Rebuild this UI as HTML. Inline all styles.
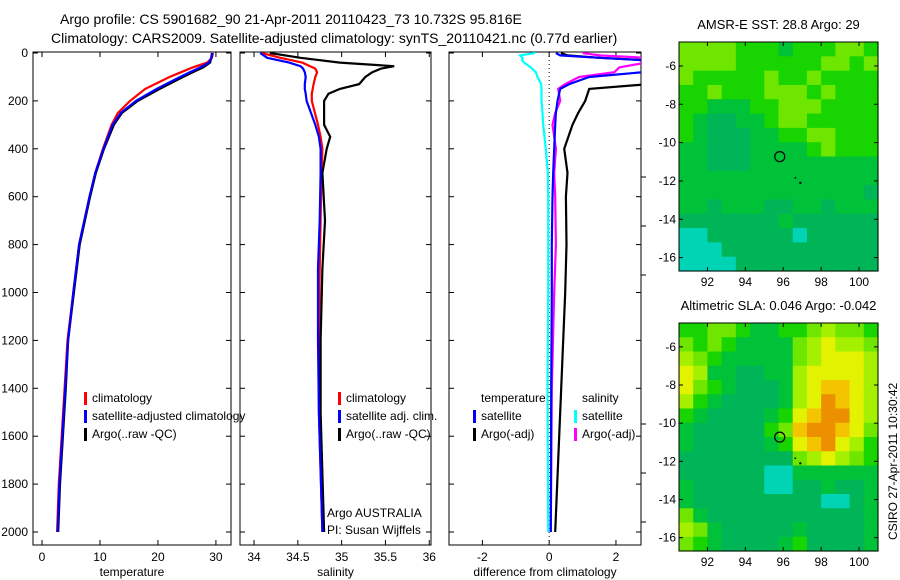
<!DOCTYPE html>
<html><head><meta charset="utf-8"><style>
html,body{margin:0;padding:0;background:#fff;}
svg{display:block;font-family:"Liberation Sans",sans-serif;}
text{font-size:12px;fill:#000;}
</style></head><body>
<svg id="fig" width="900" height="580" viewBox="0 0 900 580">
<text x="60" y="24" style="font-size:14px">Argo profile: CS 5901682_90 21-Apr-2011 20110423_73 10.732S 95.816E</text>
<text x="51" y="43" style="font-size:14px">Climatology: CARS2009. Satellite-adjusted climatology: synTS_20110421.nc (0.77d earlier)</text>
<g id="g"></g>
<text transform="translate(897,540) rotate(-90)">CSIRO 27-Apr-2011 10:30:42</text>
</svg>
<script>
// ---- profile data ----
const depthT=[0,20,40,60,80,100,150,200,250,300,400,500,600,800,1000,1200,1400,1600,1800,2000];
const tempArgo=[29.3,29.2,29.0,27.8,26.0,24.3,20.3,16.5,13.8,12.4,10.7,9.3,8.3,6.5,5.5,4.5,4.1,3.6,3.1,2.8];
const tempClim=[29.5,29.3,28.5,26.0,24.0,22.0,17.8,15.2,13.1,12.0,10.5,9.2,8.2,6.4,5.4,4.4,3.9,3.4,2.9,2.6];
const tempSat=[29.4,29.2,28.8,27.3,25.5,23.8,19.8,16.2,13.6,12.2,10.6,9.2,8.2,6.4,5.4,4.5,4.0,3.5,3.0,2.7];
const depthS=[0,20,40,55,65,80,100,130,150,170,200,300,350,400,500,700,900,1200,1500,2000];
const salArgo=[34.18,34.53,34.98,35.6,35.45,35.35,35.27,35.2,34.98,34.85,34.8,34.8,34.87,34.83,34.78,34.81,34.78,34.76,34.76,34.8];
const salClim=[34.09,34.3,34.55,34.64,34.7,34.72,34.7,34.68,34.67,34.66,34.66,34.73,34.76,34.78,34.77,34.76,34.75,34.74,34.74,34.78];
const salSat=[34.07,34.15,34.4,34.53,34.56,34.58,34.59,34.58,34.58,34.59,34.6,34.7,34.74,34.76,34.76,34.75,34.73,34.73,34.74,34.78];
const depthD=[0,10,20,30,40,60,80,100,130,150,200,250,300,400,500,600,800,1000,1400,2000];
const dTArgo=[0.35,0.55,1.5,2.9,3.0,3.0,3.0,3.0,3.0,1.2,1.08,0.87,0.7,0.45,0.55,0.5,0.52,0.48,0.36,0.18];
const dTSat=[0.2,0.33,1.5,2.8,2.8,2.8,2.8,1.2,0.6,0.33,0.25,0.2,0.18,0.15,0.12,0.1,0.08,0.08,0.06,0.05];
const dSArgo=[1.0,1.5,2.9,2.9,2.9,2.1,1.95,0.9,0.48,0.27,0.33,0.18,0.1,0.2,0.15,0.18,0.2,0.15,0.08,0.05];
const dSSat=[-0.42,-0.87,-0.8,-0.81,-0.75,-0.55,-0.4,-0.35,-0.24,-0.23,-0.23,-0.2,-0.18,-0.1,-0.04,-0.03,-0.03,-0.03,-0.05,-0.03];
const depthTicks=[0,200,400,600,800,1000,1200,1400,1600,1800,2000];
const tTicks=[0,10,20,30];
const sTicks=[34,34.5,35,35.5,36];
const dTicks=[-2,0,2];
// ---- map data (digit = colour level) ----
const sstGrid=["44443332333443","44443333334434","43333343343333","33433344434333","33222334443333","32112234433333","32111223344333","22111222234333","22111222222222","22222222222222","22222222222221","22122211221222","11111112111111","00111111011111","00011111111111","00001111111111"];
const slaGrid=["33443223345443","43432222456554","54322222456665","65221122566665","64321112567765","53211112568765","32111123678865","21111134788764","21111123678653","11111111456543","11111100222222","21111100112112","21111111110012","42111111111112","54211111211112","43211112311112"];
const lonTicks=[92,94,96,98,100];
const latTicks=[-6,-8,-10,-12,-14,-16];
const palette=["#00d4b4","#00b458","#00c238","#18d400","#6ee600","#a4f000","#e2f200","#f4c400","#ec9000"];

const NS="http://www.w3.org/2000/svg";
const G=document.getElementById('g');
function mk(tag,attrs,parent){const e=document.createElementNS(NS,tag);for(const k in attrs)e.setAttribute(k,attrs[k]);(parent||G).appendChild(e);return e;}
function txt(x,y,s,anchor,parent){const t=mk('text',{x:x,y:y,'text-anchor':anchor||'start'},parent);t.textContent=s;return t;}

const Y0=53, YK=0.2395;
const yD=d=>Y0+d*YK;
const panels=[
 {id:'temperature',x0:33,x1:231,v0:-1.55,v1:32.6,ticks:tTicks,label:'temperature'},
 {id:'salinity',x0:240,x1:431,v0:33.84,v1:36.02,ticks:sTicks,label:'salinity'},
 {id:'difference',x0:449,x1:641,v0:-3.0,v1:2.75,ticks:dTicks,label:'difference from climatology'}
];
const TOP=52,BOT=545;
panels.forEach((p,i)=>{
  p.sx=v=>p.x0+(v-p.v0)/(p.v1-p.v0)*(p.x1-p.x0);
  const cp=mk('clipPath',{id:'cp'+i});
  mk('rect',{x:p.x0,y:TOP,width:p.x1-p.x0,height:BOT-TOP},cp);
  const fr=mk('rect',{x:p.x0,y:TOP,width:p.x1-p.x0,height:BOT-TOP,fill:'none',stroke:'#000','stroke-width':1});
  
  
  p.ticks.forEach(t=>{const x=p.sx(t);
    mk('line',{x1:x,x2:x,y1:BOT,y2:BOT-5,stroke:'#000'});mk('line',{x1:x,x2:x,y1:TOP,y2:TOP+5,stroke:'#000'});
    const l=txt(x,561,String(t),'middle');
    
    });
  depthTicks.forEach(d=>{const y=yD(d);
    mk('line',{x1:p.x0,x2:p.x0+5,y1:y,y2:y,stroke:'#000'});mk('line',{x1:p.x1,x2:p.x1-5,y1:y,y2:y,stroke:'#000'});
    if(i===0){const l=txt(28,y+4,String(d),'end');
      
      }});
  const xl=txt((p.x0+p.x1)/2,576,p.label,'middle');
  
  
});
[177,226,275,424,473,522].forEach(y=>mk('line',{x1:641,x2:646,y1:y,y2:y,stroke:'#000'}));
mk('line',{x1:panels[2].sx(0),x2:panels[2].sx(0),y1:TOP,y2:BOT,stroke:'#000','stroke-dasharray':'1,3'});

function series(pi,depths,vals,color,name){
  const p=panels[pi];
  const pts=depths.map((d,k)=>p.sx(vals[k]).toFixed(1)+','+yD(d).toFixed(1)).join(' ');
  const pl=mk('polyline',{points:pts,fill:'none',stroke:color,'stroke-width':2.2,'clip-path':'url(#cp'+pi+')'});
  
  
}
series(0,depthT,tempClim,'#f00','temp-climatology-line');
series(0,depthT,tempArgo,'#000','temp-argo-line');
series(0,depthT,tempSat,'#00f','temp-satellite-line');
series(1,depthS,salClim,'#f00','sal-climatology-line');
series(1,depthS,salArgo,'#000','sal-argo-line');
series(1,depthS,salSat,'#00f','sal-satellite-line');
series(2,depthD,dSSat,'#0ff','diff-sal-satellite-line');
series(2,depthD,dSArgo,'#f0f','diff-sal-argo-line');
series(2,depthD,dTArgo,'#000','diff-temp-argo-line');
series(2,depthD,dTSat,'#00f','diff-temp-satellite-line');

function legend(x,y,items,name){
  items.forEach((it,k)=>{const yy=y+k*18;
    if(it[1])mk('rect',{x:x,y:yy-10,width:3,height:13,fill:it[1]});
    const t=txt(x+(it[1]?8:0),yy,it[0]);
    
    });
}
legend(84,402,[['climatology','#f00'],['satellite-adjusted climatology','#00f'],['Argo(..raw -QC)','#000']],'temp-legend');
legend(338,402,[['climatology','#f00'],['satellite adj. clim.','#00f'],['Argo(..raw -QC)','#000']],'sal-legend');
legend(481,402,[['temperature',null]],'diff-temp-legend');
legend(473,420,[['satellite','#00f'],['Argo(-adj)','#000']],'diff-temp-legend');
legend(582,402,[['salinity',null]],'diff-sal-legend');
legend(574,420,[['satellite','#0ff'],['Argo(-adj)','#f0f']],'diff-sal-legend');
const a1=txt(327,517,'Argo AUSTRALIA');
const a2=txt(327,534,'PI: Susan Wijffels');

// ---- maps ----
function drawMap(grid,x0,y0,x1,y1,lat0,lat1,title,name){
  const lon0=90.5,lon1=101.0;
  const sx=v=>x0+(v-lon0)/(lon1-lon0)*(x1-x0);
  const sy=v=>y0+(lat0-v)/(lat0-lat1)*(y1-y0);
  const rows=grid.length,cols=grid[0].length;
  const cw=(x1-x0)/cols,ch=(y1-y0)/rows;
  const gg=mk('g',{});
  
  
  grid.forEach((row,r)=>{for(let c=0;c<cols;c++){
    mk('rect',{x:(x0+c*cw).toFixed(2),y:(y0+r*ch).toFixed(2),width:(cw+0.6).toFixed(2),height:(ch+0.6).toFixed(2),fill:palette[+row[c]]},gg);}});
  mk('rect',{x:x0,y:y0,width:x1-x0,height:y1-y0,fill:'none',stroke:'#000'});
  lonTicks.forEach(v=>{const x=sx(v);mk('line',{x1:x,x2:x,y1:y1,y2:y1-4,stroke:'#000'});mk('line',{x1:x,x2:x,y1:y0,y2:y0+4,stroke:'#000'});
    const t=txt(x,y1+15,String(v),'middle');});
  latTicks.forEach(v=>{const y=sy(v);mk('line',{x1:x0,x2:x0+4,y1:y,y2:y,stroke:'#000'});mk('line',{x1:x1,x2:x1-4,y1:y,y2:y,stroke:'#000'});
    const t=txt(x0-3,y+4,String(v),'end');});
  const cx=sx(95.816),cy=sy(-10.732);
  const m=mk('circle',{cx:cx,cy:cy,r:5,fill:'none',stroke:'#000','stroke-width':1.2});
  
  
  mk('rect',{x:sx(96.6),y:sy(-11.8),width:1.5,height:1.5,fill:'#000'});
  mk('rect',{x:sx(96.85),y:sy(-12.05),width:2,height:2,fill:'#000'});
  const tt=txt((x0+x1)/2,y0-13,title,'middle');
  tt.setAttribute('style','font-size:13px');
  
  
}
drawMap(sstGrid,679,42,878,271,-4.75,-16.7,'AMSR-E SST: 28.8 Argo: 29','sst-map');
drawMap(slaGrid,679,323,878,551,-4.75,-16.7,'Altimetric SLA: 0.046 Argo: -0.042','sla-map');
</script>
</body></html>
